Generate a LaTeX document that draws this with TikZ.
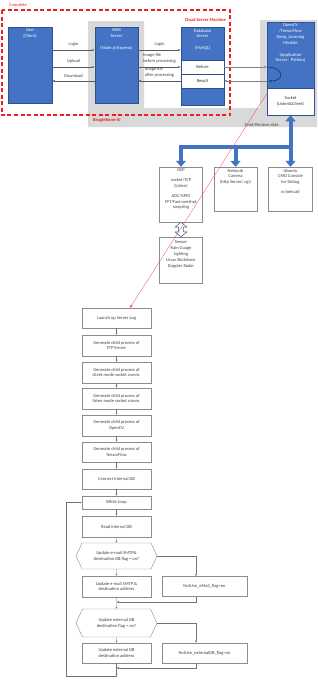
\documentclass[tikz,border=0pt]{standalone}
\usepackage{fontspec}
\setmainfont{Carlito}
\usepackage{xcolor}
\usepackage{tikz}
\usetikzlibrary{arrows.meta, positioning, calc, shapes.symbols}
\definecolor{oblue}{RGB}{68,114,196}
\definecolor{oline}{RGB}{47,82,143}
\definecolor{bbgray}{RGB}{217,217,217}
\definecolor{cred}{RGB}{240,30,30}
\newcommand{\boxtext}[3]{\parbox[c][#2][t]{#1}{\centering\vspace{2pt}#3}}

\begin{document}
\begin{tikzpicture}[x=1pt, y=-1pt, font=\fontsize{4.5}{5.8}\selectfont,
  srv/.style={draw=oline, fill=oblue, text=white, inner sep=0pt, line width=0.5pt},
  sub/.style={draw=oline, fill=white, text=black!80, inner sep=0pt, line width=0.5pt, minimum width=43pt, minimum height=14pt},
  dev/.style={draw=black!45, fill=white, text=black!75, inner sep=0pt, line width=0.4pt},
  fbox/.style={draw=black!45, fill=white, text=black!75, align=center, inner sep=0pt, minimum width=69pt, minimum height=20pt, line width=0.4pt},
  fdec/.style={fbox, signal, signal to=east and west, signal pointer angle=130, minimum width=81pt, minimum height=26pt},
  link/.style={draw=black!65, line width=0.4pt, -{Latex[length=2.5pt,width=2pt]}},
  pipe/.style={draw=black!50, line width=0.6pt, -{Latex[length=2.5pt,width=2.2pt]}},
  flow/.style={draw=black!55, line width=0.35pt, -{Latex[length=2pt,width=2pt]}},
  bus/.style={draw=oblue, line width=4pt},
  redtxt/.style={text=cred, inner sep=0pt}
]
\fill[white] (0,0) rectangle (317,680);
\useasboundingbox (0,0) rectangle (317,680);

% BeagleBone-AI area and cloud machine
\fill[bbgray] (88,21) -- (144,21) -- (144,108) -- (260,108) -- (260,20) -- (317,20) -- (317,127) -- (88,127) -- cycle;
\draw[cred, line width=1.1pt, dash pattern=on 4pt off 2.5pt] (2,10) rectangle (230,115);
\node[redtxt, anchor=west] (complete) at (9,5) {Complete};
\node[redtxt, anchor=east, font=\fontsize{4.5}{5.8}\selectfont\bfseries] (cloud) at (226,20) {Cloud Server Machine};
\node[redtxt, anchor=west, font=\fontsize{4.5}{5.8}\selectfont\bfseries] (bbai) at (93,120) {BeagleBone-AI};

% servers
\node[srv] (user) at (30,65) {\boxtext{44pt}{76pt}{User\\(Client)}};
\node[srv] (web) at (116.5,65) {\boxtext{43pt}{76pt}{WEB\\Server\\[6pt](Node.js/Express)}};
\node[srv] (db) at (202.5,66) {\boxtext{43pt}{78pt}{Database\\Server\\[6pt](MySQL)}};
\node[sub] (before) at (202.5,67) {Before};
\node[sub] (result) at (202.5,81) {Result};
\node[srv] (ocv) at (290.5,68.5) {\boxtext{47pt}{93pt}{OpenCV\\/TensorFlow\\Deep\_Learning\\Module\\[6pt](Application\\Server : Python)}};
\node[sub, minimum width=47pt, minimum height=27pt, align=center] (socket) at (290.5,101.5) {Socket\\(Listen\&Client)};

\draw[link] (user.east |- 0,50) -- node[above=0.3pt, text=black!75] {Login} (web.west |- 0,50);
\draw[link] (user.east |- before) -- node[above=0.3pt, text=black!75] {Upload} (web.west |- before);
\draw[link] (web.west |- result) -- node[above=0.3pt, text=black!75] {Download} (user.east |- result);
\draw[link] (web.east |- 0,50) -- node[above=0.3pt, text=black!75] {Login} (db.west |- 0,50);
\draw[link] (web.east |- before) -- node[above=0.3pt, text=black!75, align=left] {Image file\\before processing} (before.west);
\draw[link] (result.west) -- node[above=0.3pt, text=black!75, align=left] {Image file\\after processing} (web.east |- result);
\draw[pipe] (before.east) -- (ocv.west |- before);
\draw[pipe] (ocv.west |- result) -- (result.east);
\draw[draw=oline!60!black, line width=0.6pt, -{Latex[length=2.5pt,width=2pt]}] (ocv.west |- before) .. controls +(17,0) and +(17,0) .. ($(ocv.west |- result)+(2,0)$);
\node[text=black!75] (sendrecv) at (261.5,125) {Send/Recieve data};

% devices
\node[dev] (dsp) at (181,194.5) {\boxtext{43pt}{55pt}{DSP\\[4pt]socket/TCP\\(Listen)\\[4pt]ADC/GPIO\\FFT/Fast-oneshot\\sampling}};
\node[dev] (cam) at (235.5,189) {\boxtext{43pt}{44pt}{Network\\Camera\\(http Server/ cgi)}};
\node[dev] (ubu) at (290.5,189) {\boxtext{44pt}{44pt}{Ubuntu\\CMD Console\\for Debug\\[4pt]nc(netcat)}};
\node[dev] (sensor) at (181,260) {\boxtext{43pt}{46pt}{\vspace{2pt}Sensor\\Rain Guage\\Lighting\\Linux Shutdown\\Doppler Radar}};

\coordinate (hub) at (290.5,147);
\draw[bus, {Triangle[width=10pt,length=6pt]}-{Triangle[width=10pt,length=6pt]}] (socket.south) -- (ubu.north);
\draw[bus, line join=miter, -{Triangle[width=10pt,length=6pt]}] (socket.south |- hub) -| (dsp.north);
\draw[bus, -{Triangle[width=10pt,length=6pt]}] (cam.north |- hub) -- (cam.north);
\draw[draw=oline, fill=white, line width=0.5pt, line join=miter] (dsp.south) -- ++(6,5) -- ++(-3.5,0) -- ($(sensor.north)+(2.5,-5)$) -- ++(3.5,0) -- (sensor.north) -- ++(-6,-5) -- ++(3.5,0) -- ($(dsp.south)+(-2.5,5)$) -- ++(-3.5,0) -- cycle;

% server program flow
\node[fbox] (launch) at (116.5,318) {Launch up Server Log};
\node[fbox, minimum height=21pt] (ftp) at (116.5,345.5) {Generate child process of\\FTP Server};
\node[fbox, minimum height=21pt] (client) at (116.5,372.5) {Generate child process of\\client mode socket comm.};
\node[fbox, minimum height=21pt] (listen) at (116.5,398.5) {Generate child process of\\listen mode socket comm.};
\node[fbox, minimum height=21pt] (ocvp) at (116.5,425.5) {Generate child process of\\OpenCV};
\node[fbox] (tfp) at (116.5,452) {Generate child process of\\TensorFlow};
\node[fbox] (conn) at (116.5,479) {Connect internal DB};
\node[fbox, minimum height=13pt] (while) at (116.5,502.5) {While Loop};
\node[fbox, minimum height=21pt] (read) at (116.5,526.5) {Read internal DB};
\node[fdec] (dec1) at (116.5,556) {Update e-mail SMTP\&\\destination DB flag = on?};
\node[fbox, minimum height=21pt] (upmail) at (116.5,586.5) {Update e-mail SMTP \&\\destination address};
\node[fbox, minimum width=85pt] (nomail) at (204.5,586.5) {NotUse\_eMail\_flag=on};
\node[fdec, minimum height=28pt] (dec2) at (116.5,623) {Update external DB\\destination flag = on?};
\node[fbox] (upext) at (116.5,653) {Update external DB\\destination address};
\node[fbox, minimum width=85pt] (noext) at (204.5,653) {NotUse\_externalDB\_flag=on};

\coordinate (m1) at (upmail.south |- 0,602);
\coordinate (m2) at (upext.south |- 0,668);
\coordinate (m3) at (upext.south |- 0,676);

\draw[flow] (launch) -- (ftp);
\draw[flow] (ftp) -- (client);
\draw[flow] (client) -- (listen);
\draw[flow] (listen) -- (ocvp);
\draw[flow] (ocvp) -- (tfp);
\draw[flow] (tfp) -- (conn);
\draw[flow] (conn) -- (while);
\draw[flow] (while) -- (read);
\draw[flow] (read) -- (dec1);
\draw[flow] (dec1) -- (upmail);
\draw[flow] (dec1.east) -| ($(nomail.north)+(-8.5,0)$);
\draw[flow] (upmail) -- (dec2);
\draw[flow] ($(nomail.south)+(-8.5,0)$) |- (m1);
\draw[flow] (dec2) -- (upext);
\draw[flow] (dec2.east) -| ($(noext.north)+(-8.5,0)$);
\draw[flow] (upext.south) -- (m3);
\draw[flow] ($(noext.south)+(-8.5,0)$) |- (m2);
\draw[flow] (m3) -- ++(-50.5,0) |- (while.west);

% data path from socket to server log
\draw[cred!80, line width=0.3pt, -{Latex[length=3pt,width=2.5pt]}] ($(socket.north west)+(0,6)$) -- ($(launch.north)+(13.5,0)$);
\end{tikzpicture}
\end{document}
